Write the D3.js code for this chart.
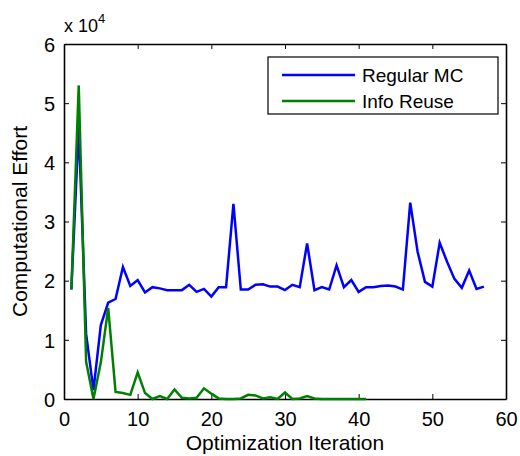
<!DOCTYPE html>
<html>
<head>
<meta charset="utf-8">
<script src="https://cdn.jsdelivr.net/npm/d3@7"></script>
<style>
  body { margin: 0; background: #fff; }
  text { font-family: "Liberation Sans", Arial, sans-serif; fill: #000; }
  .axis path, .axis line { stroke: #000; }
</style>
</head>
<body>
<div id="chart"></div>
<script>
// values in units of 1e4
const regularMC = [1.85, 4.6, 1.1, 0.15, 1.25, 1.63, 1.69, 2.23, 1.91, 2.01,
  1.80, 1.89, 1.87, 1.84, 1.84, 1.84, 1.93, 1.81, 1.86, 1.73,
  1.89, 1.89, 3.30, 1.85, 1.85, 1.93, 1.94, 1.90, 1.90, 1.84,
  1.93, 1.89, 2.63, 1.84, 1.89, 1.85, 2.26, 1.89, 2.01, 1.81,
  1.89, 1.89, 1.91, 1.92, 1.90, 1.85, 3.32, 2.49, 1.98, 1.90,
  2.64, 2.32, 2.03, 1.88, 2.17, 1.86, 1.90];
const infoReuse = [1.85, 5.3, 0.63, 0.0, 0.62, 1.54, 0.12, 0.10, 0.07, 0.45,
  0.10, 0.0, 0.05, 0.0, 0.16, 0.02, 0.01, 0.02, 0.18, 0.09,
  0.01, 0.0, 0.0, 0.01, 0.07, 0.06, 0.01, 0.03, 0.0, 0.11,
  0.0, 0.01, 0.05, 0.01, 0.0, 0.0, 0.0, 0.0, 0.0, 0.0, 0.0];
const seriesNames = ['Regular MC', 'Info Reuse'];
const xTicks = [0, 10, 20, 30, 40, 50, 60];
const yTicks = [0, 1, 2, 3, 4, 5, 6];

const colors = ['#0000ff', '#008000'];

// Setup chart dimensions and margins
const margin = { top: 44, right: 14, bottom: 57, left: 64 };
const width = 520 - margin.left - margin.right;
const height = 456 - margin.top - margin.bottom;

const x = d3.scaleLinear().domain([0, 60]).range([0, width]);
const y = d3.scaleLinear().domain([0, 6]).range([height, 0]);

const svg = d3.select('#chart').append('svg')
    .attr('width', 520)
    .attr('height', 456);
const g = svg.append('g')
    .attr('transform', 'translate(' + margin.left + ',' + margin.top + ')');

// Axes (ticks inside, box style)
const tickLen = 5;
g.append('g')
    .attr('class', 'axis')
    .attr('transform', 'translate(0,' + height + ')')
    .call(d3.axisBottom(x).tickValues(xTicks).tickFormat(d3.format('d'))
        .tickSizeInner(-tickLen).tickSizeOuter(0).tickPadding(13))
    .call(a => a.selectAll('text').style('font-size', '20px'));
g.append('g')
    .attr('class', 'axis')
    .call(d3.axisLeft(y).tickValues(yTicks).tickFormat(d3.format('d'))
        .tickSizeInner(-tickLen).tickSizeOuter(0).tickPadding(9))
    .call(a => a.selectAll('text').style('font-size', '20px').attr('dy', '0.36em'));
g.append('g')
    .attr('class', 'axis')
    .call(d3.axisTop(x).tickValues(xTicks).tickSizeInner(-tickLen).tickSizeOuter(0).tickFormat(''));
g.append('g')
    .attr('class', 'axis')
    .attr('transform', 'translate(' + width + ',0)')
    .call(d3.axisRight(y).tickValues(yTicks).tickSizeInner(-tickLen).tickSizeOuter(0).tickFormat(''));
g.selectAll('.axis path').attr('stroke-width', 1.6);
g.selectAll('.axis line').attr('stroke-width', 1);

// Lines
const line = d3.line()
    .x((d, i) => x(i + 1))
    .y(d => y(d));

[regularMC, infoReuse].forEach((data, k) => {
  g.append('path')
      .datum(data)
      .attr('fill', 'none')
      .attr('stroke', colors[k])
      .attr('stroke-width', 2.5)
      .attr('stroke-linejoin', 'miter')
      .attr('d', line);
});

// Axis labels
svg.append('text')
    .attr('x', margin.left + width / 2)
    .attr('y', 450)
    .attr('text-anchor', 'middle')
    .style('font-size', '21px')
    .text('Optimization Iteration');

svg.append('text')
    .attr('transform', 'translate(27,' + (margin.top + height / 2) + ') rotate(-90)')
    .attr('text-anchor', 'middle')
    .style('font-size', '21px')
    .text('Computational Effort');

const mult = svg.append('text')
    .attr('x', 64)
    .attr('y', 32)
    .style('font-size', '18px');
mult.append('tspan').text('x 10');
mult.append('tspan').attr('dy', -9).style('font-size', '13px').text('4');

// Legend
const legend = svg.append('g').attr('transform', 'translate(268,57)');
legend.append('rect')
    .attr('width', 230)
    .attr('height', 57)
    .attr('fill', '#fff')
    .attr('stroke', '#000')
    .attr('stroke-width', 1.2);
seriesNames.forEach((name, k) => {
  const ly = 18 + k * 26;
  legend.append('line')
      .attr('x1', 14).attr('x2', 87)
      .attr('y1', ly).attr('y2', ly)
      .attr('stroke', colors[k])
      .attr('stroke-width', 2.5);
  legend.append('text')
      .attr('x', 94)
      .attr('y', ly)
      .attr('dy', '0.36em')
      .style('font-size', '19px')
      .text(name);
});
</script>
</body>
</html>
